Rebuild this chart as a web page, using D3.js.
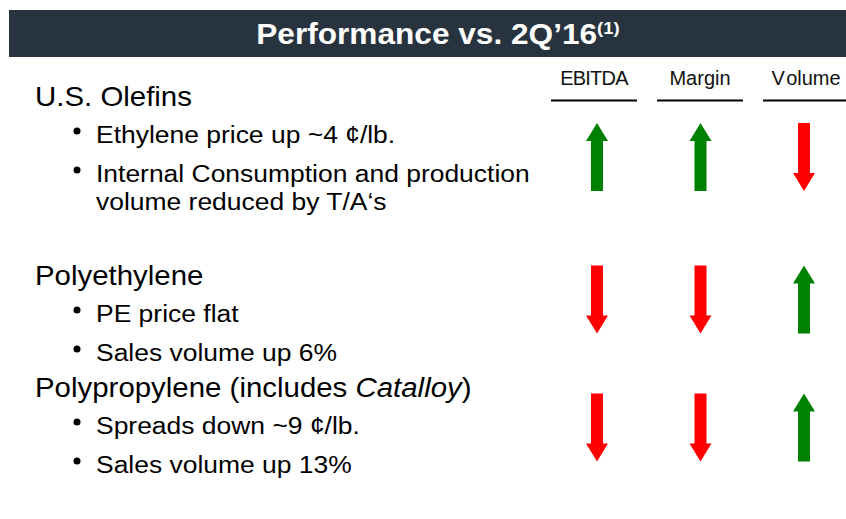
<!DOCTYPE html>
<html lang="en">
<head>
  <meta charset="UTF-8">
  <script src="https://d3js.org/d3.v7.min.js"></script>
  <style>
    body { margin: 0; background: #fff; }
    text { font-family: "Liberation Sans", Arial, sans-serif; }
  </style>
  <title>Performance vs. 2Q'16</title>
</head>
<body>
  <svg id="chart" width="846" height="519"></svg>
  <script>
    // Data
    var segments = ["U.S. Olefins", "Polyethylene", "Polypropylene (includes "];
    var segmentItalic = ["", "", "Catalloy"];
    var segmentTail = ["", "", ")"];
    var bullets = [
      ["Ethylene price up ~4 \u00a2/lb.", "Internal Consumption and production|volume reduced by T/A\u2018s"],
      ["PE price flat", "Sales volume up 6%"],
      ["Spreads down ~9 \u00a2/lb.", "Sales volume up 13%"]
    ];
    var metrics = ["EBITDA", "Margin", "Volume"];
    // +1 = up, -1 = down
    var ebitda = [1, -1, -1];
    var margin = [1, -1, -1];
    var volume = [-1, 1, 1];

    var svg = d3.select("#chart"),
      width = +svg.attr("width"),
      height = +svg.attr("height");

    // source text is slightly stretched horizontally
    var sxTitle = 1.09, sxHead = 1.07, sxBody = 1.08;

    // header bar
    svg.append("rect")
      .attr("x", 9).attr("y", 10)
      .attr("width", width - 9).attr("height", 47)
      .attr("fill", "#27333e");

    var title = svg.append("text")
      .attr("transform", "translate(438,44) scale(" + sxTitle + ",1)")
      .attr("text-anchor", "middle")
      .attr("fill", "#fff")
      .attr("font-weight", "bold")
      .attr("font-size", 29);
    title.append("tspan").text("Performance vs. 2Q\u201916");
    title.append("tspan").attr("font-size", 17).attr("dy", -10).text("(1)");

    // columns
    var x = d3.scalePoint().domain(metrics).range([594, 806]);
    var arrowX = d3.scalePoint().domain(metrics).range([597, 804]);

    var cols = svg.selectAll("g.col")
      .data(metrics)
      .enter().append("g")
      .attr("class", "col");

    var colText = cols.append("text")
      .attr("x", d => x(d))
      .attr("y", 85)
      .attr("text-anchor", "middle")
      .attr("font-size", 20)
      .attr("letter-spacing", d => d === "EBITDA" ? -0.8 : 0)
      .attr("fill", "#111");
    colText.append("tspan").text(d => d.charAt(0));
    colText.append("tspan").attr("dx", d => d === "Volume" ? 2.5 : 0).text(d => d.slice(1));

    cols.append("line")
      .attr("x1", d => x(d) - 43)
      .attr("x2", d => x(d) + 43)
      .attr("y1", 100.5).attr("y2", 100.5)
      .attr("stroke", "#000")
      .attr("stroke-width", 2);

    // rows
    var headY = d3.scaleOrdinal().domain(segments).range([106, 285, 397]);
    var arrowTop = d3.scaleOrdinal().domain(segments).range([123, 265.5, 393.5]);

    var left = svg.append("g");
    segments.forEach(function (s, i) {
      var y0 = headY(s);
      var t = left.append("text")
        .attr("transform", "translate(35," + y0 + ") scale(" + sxHead + ",1)")
        .attr("font-size", 27.5)
        .attr("fill", "#000");
      t.append("tspan").text(s);
      if (segmentItalic[i]) {
        t.append("tspan").attr("font-style", "italic").text(segmentItalic[i]);
        t.append("tspan").text(segmentTail[i]);
      }

      var y = y0 + 37;
      bullets[i].forEach(function (b, j) {
        if (j > 0) y += 39;
        left.append("circle")
          .attr("cx", 77).attr("cy", y - 12).attr("r", 3.5)
          .attr("fill", "#000");
        b.split("|").forEach(function (line, k) {
          if (k > 0) y += 27.5;
          left.append("text")
            .attr("transform", "translate(96," + y + ") scale(" + sxBody + ",1)")
            .attr("font-size", 24.5)
            .attr("fill", "#000")
            .text(line);
        });
      });
    });

    // arrows
    var arrowLen = 68, headLen = 18, headW = 11, shaftW = 6;
    var arrowData = [];
    segments.forEach(function (s, i) {
      [ebitda, margin, volume].forEach(function (series, m) {
        arrowData.push({ seg: s, metric: metrics[m], dir: series[i] });
      });
    });

    function arrowPath(d) {
      var cx = arrowX(d.metric), top = arrowTop(d.seg), bot = top + arrowLen;
      if (d.dir > 0) {
        return "M" + cx + "," + top +
          "L" + (cx + headW) + "," + (top + headLen) +
          "L" + (cx + shaftW) + "," + (top + headLen) +
          "L" + (cx + shaftW) + "," + bot +
          "L" + (cx - shaftW) + "," + bot +
          "L" + (cx - shaftW) + "," + (top + headLen) +
          "L" + (cx - headW) + "," + (top + headLen) + "Z";
      }
      return "M" + cx + "," + bot +
        "L" + (cx + headW) + "," + (bot - headLen) +
        "L" + (cx + shaftW) + "," + (bot - headLen) +
        "L" + (cx + shaftW) + "," + top +
        "L" + (cx - shaftW) + "," + top +
        "L" + (cx - shaftW) + "," + (bot - headLen) +
        "L" + (cx - headW) + "," + (bot - headLen) + "Z";
    }

    svg.selectAll("path.arrow")
      .data(arrowData)
      .enter().append("path")
      .attr("class", "arrow")
      .attr("d", arrowPath)
      .attr("fill", d => d.dir > 0 ? "#008000" : "#ff0000");
  </script>
</body>
</html>
